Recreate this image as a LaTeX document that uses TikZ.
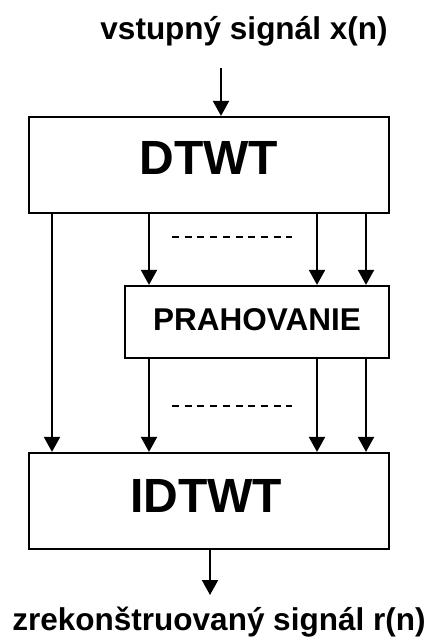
\documentclass[tikz,border=0pt]{standalone}
\usepackage{fontspec}
\setmainfont{Liberation Sans}
\usetikzlibrary{arrows.meta}
\begin{document}
\begin{tikzpicture}[x=1pt,y=-1pt,
  blk/.style={draw,line width=2.2pt,minimum width=#1,inner sep=0pt,font=\bfseries},
  arr/.style={line width=2pt,-{Triangle[width=16pt,length=15pt]}},
  dots/.style={line width=1.6pt,dash pattern=on 7pt off 5.7pt},
  lbl/.style={font=\fontsize{31.5}{34}\selectfont\bfseries,inner sep=0pt,anchor=base}]
\useasboundingbox (0,0) rectangle (433,642);
\node[lbl] (in) at (244,40) {vstupný signál x(n)};
\node[blk=360pt,minimum height=96pt,font=\fontsize{48}{50}\selectfont\bfseries] (dtwt) at (209,165) {\raisebox{14pt}{DTWT}};
\node[blk=264pt,minimum height=72pt,font=\fontsize{31.5}{34}\selectfont\bfseries] (prah) at (257,322) {\raisebox{6pt}{PRAHOVANIE}};
\node[blk=360pt,minimum height=96pt,font=\fontsize{48}{50}\selectfont\bfseries] (idtwt) at (209,501) {\raisebox{10pt}{IDTWT\hspace{6pt}}};
\node[lbl] (out) at (219,630) {zrekonštruovaný signál r(n)};
\coordinate (a0) at (221,68);
\draw[arr] (a0) -- (a0 |- dtwt.north);
\draw[arr] (dtwt.south -| 52,0) -- (idtwt.north -| 52,0);
\foreach \x in {149,317,366}{
  \draw[arr] (dtwt.south -| \x,0) -- (prah.north -| \x,0);
  \draw[arr] (prah.south -| \x,0) -- (idtwt.north -| \x,0);
}
\coordinate (d1a) at (172,237); \coordinate (d1b) at (292,237);
\coordinate (d2a) at (172,406); \coordinate (d2b) at (292,406);
\draw[dots] (d1a) -- (d1b);
\draw[dots] (d2a) -- (d2b);
\coordinate (o0) at (210,595);
\draw[arr] (idtwt.south -| o0) -- (o0);
\end{tikzpicture}
\end{document}
